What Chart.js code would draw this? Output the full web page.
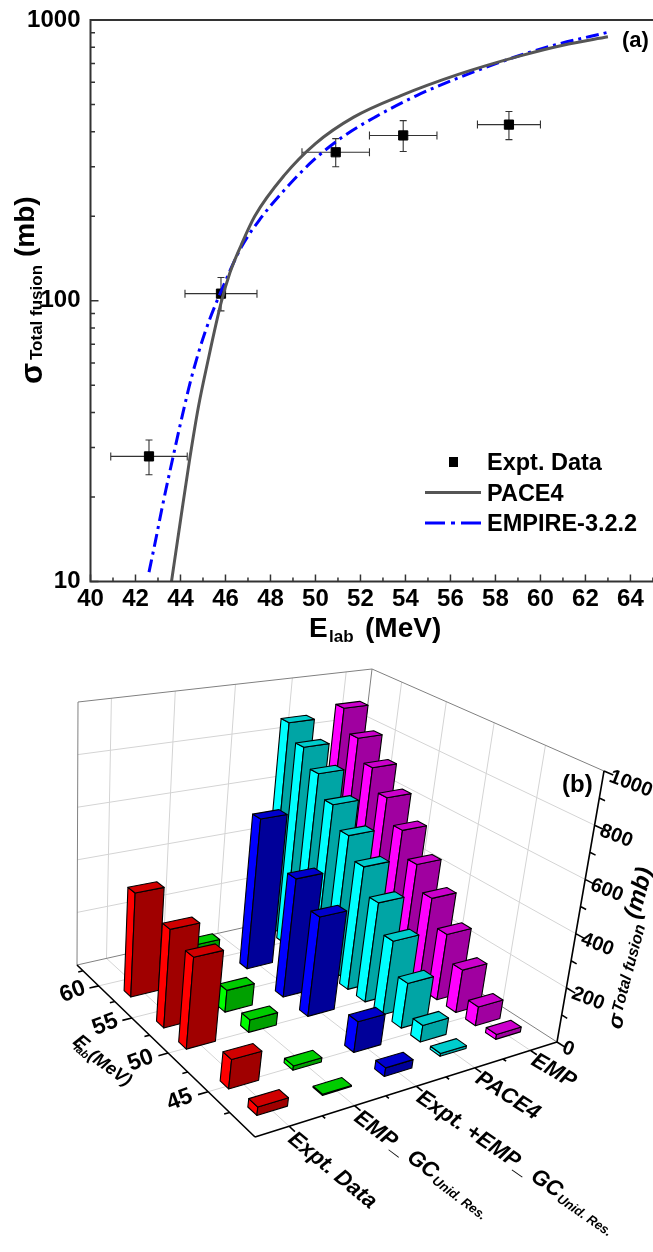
<!DOCTYPE html>
<html>
<head>
<meta charset="utf-8">
<script src="https://cdn.jsdelivr.net/npm/chart.js@4"></script>
<style>
    body { margin: 0; background: #fff; }
    canvas { position: absolute; left: 0; }
    #chartA { top: 0; }
    #chartB { top: 645px; }
</style>
</head>
<body>
<canvas id="chartA" width="653" height="645"></canvas>
<canvas id="chartB" width="653" height="607"></canvas>
<script>
// panel (a)
var exptE = [42.6, 45.8, 50.9, 53.9, 58.6];
var exptSigma = [27.9, 106, 338, 388, 424];
var exptELow = [40.9, 44.2, 49.4, 52.4, 57.2];
var exptEHigh = [44.3, 47.4, 52.4, 55.4, 60.0];
var exptSigmaLow = [24.0, 92, 300, 340, 375];
var exptSigmaHigh = [31.9, 121, 378, 438, 472];

var paceE = [43.6, 44, 44.4, 44.8, 45.2, 45.8, 46.2, 46.7, 47.3, 48.6, 50.0, 51.7, 53.8, 56.35, 59.1, 61, 63];
var paceSigma = [10, 16.5, 27, 42, 60, 98, 126, 158, 200, 279, 363, 451, 538, 640, 745, 813, 871];

var empireE = [42.6, 42.9, 43.2, 43.7, 44.15, 44.5, 45.1, 45.95, 46.7, 47.55, 48.6, 49.9, 51.2, 52.65, 54.5, 56.35, 58.8, 60.6, 63];
var empireSigma = [10.8, 14.1, 18.6, 28.5, 41.2, 53.7, 77.6, 115, 155, 196, 247, 316, 383, 451, 538, 622, 735, 813, 904];

var sigmaTicks = [10, 100, 1000];

// panel (b)
var barCategories = ["Expt. Data", "EMP_ GC", "Expt. +EMP_ GC", "PACE4", "EMP"];
var barCategorySubs = ["", "Unid. Res.", "Unid. Res.", "", ""];
var exptRows = [42.0, 45.2, 50.4, 53.4, 58.1];
var calcRows = [42.3, 44.3, 46.3, 48.3, 50.3, 52.3, 54.3, 56.4, 58.4, 60.4, 62.4];
var barExpt = [28, 100, 325, 355, 385];
var barEmpGc = [4, 15, 45, 80, 140];
var barExptEmpGc = [30, 110, 368, 446, 580];
var barPace = [10, 60, 165, 275, 375, 470, 550, 630, 715, 785, 850];
var barEmp = [18, 70, 160, 250, 345, 435, 530, 620, 705, 790, 880];
var energyTicks = [45, 50, 55, 60];
var sigma3dTicks = [0, 200, 400, 600, 800, 1000];

function drawText(ctx, text, x, y, angle, font, align, baseline) {
    ctx.save();
    ctx.translate(x, y);
    ctx.rotate(angle * Math.PI / 180);
    ctx.font = font;
    ctx.fillStyle = "#000";
    ctx.textAlign = align || "left";
    ctx.textBaseline = baseline || "alphabetic";
    ctx.fillText(text, 0, 0);
    ctx.restore();
}

function makePoints(xs, ys) {
    var pts = [];
    for (var i in xs) {
        pts.push({ x: xs[i], y: ys[i] });
    }
    return pts;
}

var framePlugin = {
    id: "framePlugin",
    beforeDatasetsDraw: function (chart) {
        var ctx = chart.ctx;
        var xs = chart.scales.x;
        var ys = chart.scales.y;
        ctx.save();
        // error bars
        for (var i in exptE) {
            var px = xs.getPixelForValue(exptE[i]);
            var py = ys.getPixelForValue(exptSigma[i]);
            var x1 = xs.getPixelForValue(exptELow[i]);
            var x2 = xs.getPixelForValue(exptEHigh[i]);
            var y1 = ys.getPixelForValue(exptSigmaLow[i]);
            var y2 = ys.getPixelForValue(exptSigmaHigh[i]);
            ctx.lineWidth = 1.1;
            ctx.strokeStyle = "#333";
            ctx.beginPath();
            ctx.moveTo(x1, py); ctx.lineTo(x2, py);
            ctx.moveTo(x1, py - 4); ctx.lineTo(x1, py + 4);
            ctx.moveTo(x2, py - 4); ctx.lineTo(x2, py + 4);
            ctx.moveTo(px, y1); ctx.lineTo(px, y2);
            ctx.moveTo(px - 3.5, y1); ctx.lineTo(px + 3.5, y1);
            ctx.moveTo(px - 3.5, y2); ctx.lineTo(px + 3.5, y2);
            ctx.stroke();
        }
        ctx.restore();
    },
    afterDraw: function (chart) {
        var ctx = chart.ctx;
        var xs = chart.scales.x;
        var ys = chart.scales.y;
        var a = chart.chartArea;
        ctx.save();
        ctx.strokeStyle = "#333";
        ctx.lineWidth = 2;
        // frame runs off the right edge of the picture
        ctx.strokeRect(a.left, a.top, chart.width + 5 - a.left, a.bottom - a.top);
        ctx.lineWidth = 1.5;
        ctx.beginPath();
        for (var e = 40; e <= 65; e++) {
            var tx = xs.getPixelForValue(e);
            ctx.moveTo(tx, a.bottom);
            ctx.lineTo(tx, a.bottom - (e % 2 == 0 ? 7 : 4));
        }
        for (var d = 10; d < 1000; d *= 10) {
            for (var m = 1; m < 10; m++) {
                var ty = ys.getPixelForValue(d * m);
                ctx.moveTo(a.left, ty);
                ctx.lineTo(a.left + (m == 1 ? 8 : 4.5), ty);
            }
        }
        ctx.stroke();

        // axis titles
        var f = "Liberation Sans, Arial, sans-serif";
        drawText(ctx, "E", 309, 637, 0, "bold 28px " + f);
        drawText(ctx, "lab", 329, 642, 0, "bold 17px " + f);
        drawText(ctx, "(MeV)", 365, 637, 0, "bold 28px " + f);
        drawText(ctx, "σ", 42, 384, -90, "bold 31px " + f);
        drawText(ctx, "Total fusion", 42, 360, -90, "bold 17px " + f);
        drawText(ctx, "(mb)", 34, 257, -90, "bold 28px " + f);
        drawText(ctx, "(a)", 622, 47, 0, "bold 22px " + f);

        // legend
        ctx.fillStyle = "#000";
        ctx.fillRect(449, 457, 9, 10);
        ctx.lineWidth = 3;
        ctx.strokeStyle = "#555";
        ctx.beginPath();
        ctx.moveTo(425, 492.5); ctx.lineTo(481, 492.5);
        ctx.stroke();
        ctx.strokeStyle = "#0000ff";
        ctx.setLineDash([20, 6, 4, 6]);
        ctx.beginPath();
        ctx.moveTo(425, 523); ctx.lineTo(481, 523);
        ctx.stroke();
        ctx.setLineDash([]);
        drawText(ctx, "Expt. Data", 487, 470, 0, "bold 23.5px " + f);
        drawText(ctx, "PACE4", 487, 501, 0, "bold 23.5px " + f);
        drawText(ctx, "EMPIRE-3.2.2", 487, 531, 0, "bold 23.5px " + f);
        ctx.restore();
    }
};

var chartA = new Chart(document.getElementById("chartA"), {
    type: "scatter",
    data: {
        datasets: [{
            label: "PACE4",
            data: makePoints(paceE, paceSigma),
            showLine: true,
            borderColor: "#555",
            borderWidth: 3,
            pointRadius: 0,
            cubicInterpolationMode: "monotone"
        }, {
            label: "EMPIRE-3.2.2",
            data: makePoints(empireE, empireSigma),
            showLine: true,
            borderColor: "#0000ff",
            borderWidth: 3,
            borderDash: [13, 5, 3, 5],
            pointRadius: 0,
            cubicInterpolationMode: "monotone"
        }, {
            label: "Expt. Data",
            data: makePoints(exptE, exptSigma),
            pointStyle: "rect",
            pointRadius: 6.5,
            backgroundColor: "#000",
            borderColor: "#000"
        }]
    },
    options: {
        responsive: false,
        animation: false,
        layout: { padding: { left: 0, top: 20, right: 0, bottom: 0 } },
        plugins: { legend: { display: false }, tooltip: { enabled: false } },
        scales: {
            x: {
                type: "linear",
                min: 40,
                max: 64.67,
                grid: { display: false, drawTicks: false },
                border: { display: false },
                afterFit: function (s) {
                    s.height = 63.5;
                    s.paddingLeft = 0;
                    s.paddingRight = 0;
                },
                ticks: {
                    stepSize: 2,
                    includeBounds: false,
                    maxRotation: 0,
                    padding: 3,
                    color: "#000",
                    font: { family: "Liberation Sans", weight: "bold", size: 24 }
                }
            },
            y: {
                type: "logarithmic",
                min: 10,
                max: 1000,
                grid: { display: false, drawTicks: false },
                border: { display: false },
                afterFit: function (s) {
                    s.width = 90.5;
                    s.paddingTop = 0;
                    s.paddingBottom = 0;
                },
                ticks: {
                    autoSkip: false,
                    padding: 10,
                    color: "#000",
                    font: { family: "Liberation Sans", weight: "bold", size: 24 },
                    callback: function (v) {
                        return sigmaTicks.indexOf(v) >= 0 ? String(v) : "";
                    }
                }
            }
        }
    },
    plugins: [framePlugin]
});

// panel (b): floor corners and top corners of the 3D box, on this canvas
var topOffset = 645;
var floorQuad = [[255, 1137], [557, 1042], [344, 905], [77, 965]];
var roofQuad = [[291, 830], [604, 771], [372, 669], [78, 702]];

function quadMatrix(q) {
    var dx1 = q[1][0] - q[2][0], dx2 = q[3][0] - q[2][0], sx = q[0][0] - q[1][0] + q[2][0] - q[3][0];
    var dy1 = q[1][1] - q[2][1], dy2 = q[3][1] - q[2][1], sy = q[0][1] - q[1][1] + q[2][1] - q[3][1];
    var den = dx1 * dy2 - dx2 * dy1;
    var g = (sx * dy2 - dx2 * sy) / den;
    var h = (dx1 * sy - sx * dy1) / den;
    return [q[1][0] - q[0][0] + g * q[1][0], q[3][0] - q[0][0] + h * q[3][0], q[0][0],
            q[1][1] - q[0][1] + g * q[1][1], q[3][1] - q[0][1] + h * q[3][1], q[0][1], g, h];
}

var floorM = quadMatrix(floorQuad);
var roofM = quadMatrix(roofQuad);

function applyM(m, s, t) {
    var w = m[6] * s + m[7] * t + 1;
    return [(m[0] * s + m[1] * t + m[2]) / w, (m[3] * s + m[4] * t + m[5]) / w];
}

function scaleDecimal(scale, v) {
    return scale.getDecimalForPixel(scale.getPixelForValue(v));
}

function project(chart, cat, energy, value) {
    var s = scaleDecimal(chart.scales.x, cat);
    var t = scaleDecimal(chart.scales.energy, energy);
    var h = scaleDecimal(chart.scales.y, value);
    var a = applyM(floorM, s, t);
    var b = applyM(roofM, s, t);
    return [a[0] + (b[0] - a[0]) * h, a[1] + (b[1] - a[1]) * h - topOffset];
}

function poly(ctx, pts, fill) {
    ctx.beginPath();
    ctx.moveTo(pts[0][0], pts[0][1]);
    for (var i = 1; i < pts.length; i++) {
        ctx.lineTo(pts[i][0], pts[i][1]);
    }
    ctx.closePath();
    if (fill) {
        ctx.fillStyle = fill;
        ctx.fill();
    }
    ctx.stroke();
}

function segment(ctx, a, b) {
    ctx.moveTo(a[0], a[1]);
    ctx.lineTo(b[0], b[1]);
}

var barHalfWidth = 0.23;
var barHalfDepth = 0.5;

function drawBar(chart, ctx, cat, energy, value, colors) {
    var c0 = cat - barHalfWidth, c1 = cat + barHalfWidth;
    var e0 = energy - barHalfDepth, e1 = energy + barHalfDepth;
    var p = function (c, e, v) { return project(chart, c, e, v); };
    ctx.strokeStyle = "#000";
    ctx.lineWidth = 1.1;
    ctx.lineJoin = "round";
    poly(ctx, [p(c0, e0, 0), p(c0, e1, 0), p(c0, e1, value), p(c0, e0, value)], colors[1]);
    poly(ctx, [p(c0, e0, 0), p(c1, e0, 0), p(c1, e0, value), p(c0, e0, value)], colors[0]);
    poly(ctx, [p(c0, e0, value), p(c1, e0, value), p(c1, e1, value), p(c0, e1, value)], colors[2]);
}

var box3dPlugin = {
    id: "box3dPlugin",
    beforeDatasetsDraw: function (chart) {
        var ctx = chart.ctx;
        var catMin = chart.scales.x.min, catMax = chart.scales.x.max;
        var eMin = chart.scales.energy.min, eMax = chart.scales.energy.max;
        var p = function (c, e, v) { return project(chart, c, e, v); };
        ctx.save();

        // grid on walls and floor
        ctx.strokeStyle = "#d4d4d4";
        ctx.lineWidth = 1;
        ctx.beginPath();
        for (var i in sigma3dTicks) {
            var v = sigma3dTicks[i];
            if (v == 0 || v == 1000) continue;
            segment(ctx, p(catMin, eMax, v), p(catMax, eMax, v));
            segment(ctx, p(catMax, eMax, v), p(catMax, eMin, v));
        }
        for (var k = 1; k <= barCategories.length; k++) {
            segment(ctx, p(k, eMin, 0), p(k, eMax, 0));
            segment(ctx, p(k, eMax, 0), p(k, eMax, 1000));
        }
        for (var j in energyTicks) {
            segment(ctx, p(catMin, energyTicks[j], 0), p(catMax, energyTicks[j], 0));
            segment(ctx, p(catMax, energyTicks[j], 0), p(catMax, energyTicks[j], 1000));
        }
        ctx.stroke();

        // box outline
        ctx.strokeStyle = "#808080";
        ctx.beginPath();
        segment(ctx, p(catMin, eMax, 0), p(catMin, eMax, 1000));
        segment(ctx, p(catMin, eMax, 1000), p(catMax, eMax, 1000));
        segment(ctx, p(catMax, eMax, 1000), p(catMax, eMin, 1000));
        segment(ctx, p(catMax, eMax, 0), p(catMax, eMax, 1000));
        segment(ctx, p(catMin, eMax, 0), p(catMax, eMax, 0));
        segment(ctx, p(catMax, eMax, 0), p(catMax, eMin, 0));
        ctx.stroke();

        // bars, far ones first
        for (var d = chart.data.datasets.length - 1; d >= 0; d--) {
            var ds = chart.data.datasets[d];
            for (var n = ds.data.length - 1; n >= 0; n--) {
                drawBar(chart, ctx, ds.data[n].x, ds.rows[n], ds.data[n].y, ds.faceColors);
            }
        }

        // axes
        ctx.strokeStyle = "#000";
        ctx.lineWidth = 1.6;
        ctx.beginPath();
        segment(ctx, p(catMin, eMax, 0), p(catMin, eMin, 0));
        segment(ctx, p(catMin, eMin, 0), p(catMax, eMin, 0));
        segment(ctx, p(catMax, eMin, 0), p(catMax, eMin, 1000));
        var f = "Liberation Sans, Arial, sans-serif";
        for (var e = 42.5; e <= 62.5; e += 2.5) {
            var len = e % 5 == 0 ? 0.15 : 0.08;
            segment(ctx, p(catMin, e, 0), p(catMin - len, e, 0));
        }
        for (var c = 1; c <= barCategories.length; c += 0.5) {
            var tl = c % 1 == 0 ? 0.6 : 0.3;
            segment(ctx, p(c, eMin, 0), p(c, eMin - tl, 0));
        }
        for (var z = 0; z <= 1000; z += 100) {
            var zl = z % 200 == 0 ? 0.8 : 0.5;
            segment(ctx, p(catMax, eMin, z), p(catMax, eMin - zl, z));
        }
        ctx.stroke();

        // tick labels
        for (var a in energyTicks) {
            var ep = p(catMin - 0.42, energyTicks[a], 0);
            drawText(ctx, String(energyTicks[a]), ep[0], ep[1], -21, "bold 23px " + f, "center", "middle");
        }
        for (var b in sigma3dTicks) {
            var zp = p(catMax, eMin, sigma3dTicks[b]);
            drawText(ctx, String(sigma3dTicks[b]), zp[0] + 6, zp[1] + 5, 21, "bold 20px " + f, "left", "middle");
        }
        for (var q = 0; q < barCategories.length; q++) {
            var c1 = p(q + 1, eMin - 0.9, 0);
            var c2 = p(q + 1, eMin, 0);
            var ang = Math.atan2(c1[1] - c2[1], c1[0] - c2[0]) * 180 / Math.PI - 3;
            var lx = c1[0] - 7, ly = c1[1] + 2;
            drawText(ctx, barCategories[q], lx, ly, ang, "italic bold 22px " + f, "left", "middle");
            if (barCategorySubs[q]) {
                ctx.font = "italic bold 22px " + f;
                var w = ctx.measureText(barCategories[q]).width + 1;
                var r = ang * Math.PI / 180;
                drawText(ctx, barCategorySubs[q], lx + Math.cos(r) * w - Math.sin(r) * 5, ly + Math.sin(r) * w + Math.cos(r) * 5,
                    ang, "italic bold 13px " + f, "left", "middle");
            }
        }

        // axis titles
        drawText(ctx, "(b)", 562, 792 - topOffset, 0, "bold 24px " + f);
        drawText(ctx, "E", 72, 1043 - topOffset, 40, "italic bold 20px " + f);
        drawText(ctx, "lab", 73, 1049 - topOffset, 40, "italic bold 11px " + f);
        drawText(ctx, "(MeV)", 87, 1058 - topOffset, 36, "italic bold 18px " + f);
        drawText(ctx, "σ", 621, 1030 - topOffset, -75, "italic bold 22px " + f);
        drawText(ctx, "Total fusion", 622, 1013 - topOffset, -75, "italic bold 16px " + f);
        drawText(ctx, "(mb)", 639, 920 - topOffset, -75, "italic bold 24px " + f);
        ctx.restore();
    }
};

function barDataset(label, cat, rows, values, colors) {
    var pts = [];
    for (var i in values) {
        pts.push({ x: cat, y: values[i] });
    }
    return { label: label, data: pts, rows: rows, faceColors: colors, pointRadius: 0 };
}

var chartB = new Chart(document.getElementById("chartB"), {
    type: "scatter",
    data: {
        datasets: [
            barDataset(barCategories[0], 1, exptRows, barExpt, ["#a00000", "#ff0000", "#d00000"]),
            barDataset(barCategories[1], 2, exptRows, barEmpGc, ["#00a000", "#00ff00", "#00cc00"]),
            barDataset(barCategories[2], 3, exptRows, barExptEmpGc, ["#000099", "#0000ff", "#0000cc"]),
            barDataset(barCategories[3], 4, calcRows, barPace, ["#00a5a5", "#00ffff", "#00cccc"]),
            barDataset(barCategories[4], 5, calcRows, barEmp, ["#a000a0", "#ff00ff", "#cc00cc"])
        ]
    },
    options: {
        responsive: false,
        animation: false,
        plugins: { legend: { display: false }, tooltip: { enabled: false } },
        scales: {
            x: { type: "linear", min: 0.5, max: 5.5, display: false },
            y: { type: "linear", min: 0, max: 1000, display: false },
            energy: { type: "linear", axis: "x", min: 39.7, max: 63.5, display: false }
        }
    },
    plugins: [box3dPlugin]
});
</script>
</body>
</html>
